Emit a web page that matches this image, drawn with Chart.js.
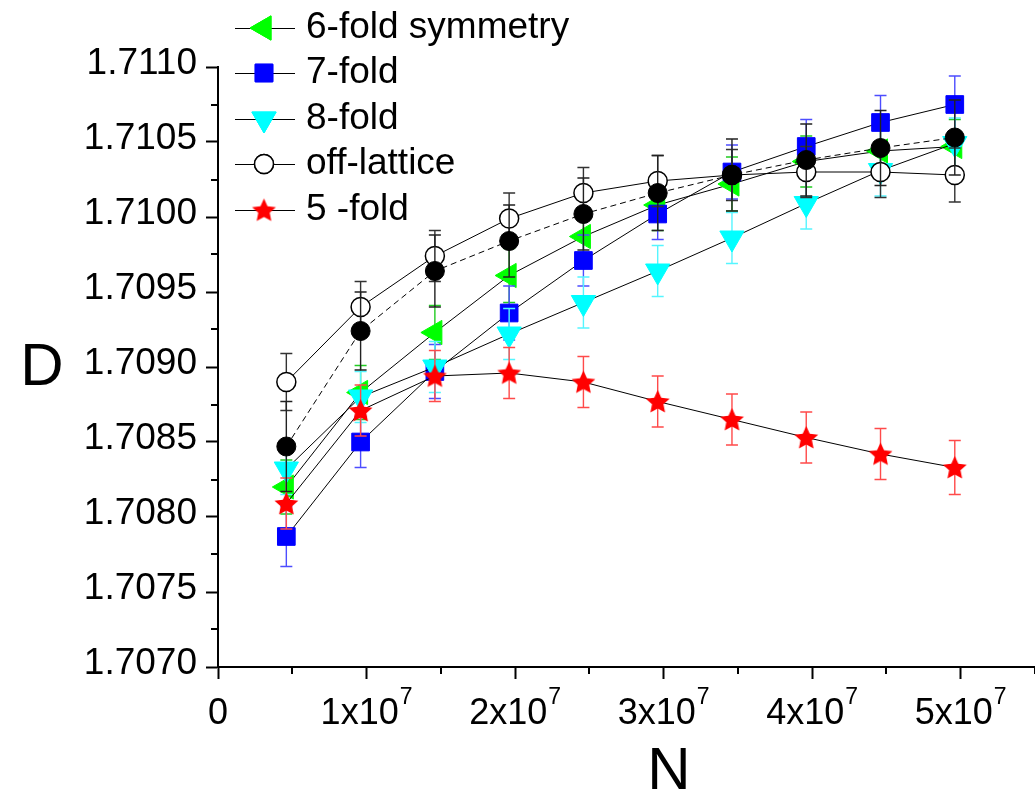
<!DOCTYPE html>
<html><head><meta charset="utf-8">
<script src="https://cdn.jsdelivr.net/npm/chart.js@4/dist/chart.umd.min.js"></script>
<style>html,body{margin:0;padding:0;background:#fff;overflow:hidden}</style>
</head><body>
<canvas id="c" width="1035" height="797"></canvas>
<script>
// ---- data ----
const nValues = [4.6e6, 9.6e6, 14.6e6, 19.6e6, 24.6e6, 29.6e6, 34.6e6, 39.6e6, 44.6e6, 49.6e6];
const fold6 = [1.70820, 1.70883, 1.70923, 1.70961, 1.70987, 1.71008, 1.71022, 1.71037, 1.71044, 1.71047];
const fold6Err = [0.00018, 0.00018, 0.00018, 0.00018, 0.00018, 0.00017, 0.00018, 0.00017, 0.00018, 0.00018];
const fold7 = [1.70787, 1.70850, 1.70897, 1.70936, 1.70971, 1.71002, 1.71030, 1.71047, 1.71063, 1.71075];
const fold7Err = [0.00020, 0.00017, 0.00018, 0.00018, 0.00017, 0.00017, 0.00018, 0.00018, 0.00018, 0.00019];
const fold8 = [1.70832, 1.70880, 1.70900, 1.70922, 1.70943, 1.70964, 1.70986, 1.71009, 1.71031, 1.71049];
const fold8Err = [0.00017, 0.00017, 0.00017, 0.00017, 0.00017, 0.00017, 0.00017, 0.00017, 0.00017, 0.00017];
const offLattice = [1.70890, 1.70940, 1.70974, 1.70999, 1.71016, 1.71024, 1.71028, 1.71030, 1.71030, 1.71028];
const offLatticeErr = [0.00019, 0.00017, 0.00017, 0.00017, 0.00017, 0.00017, 0.00017, 0.00017, 0.00017, 0.00018];
const fold5 = [1.70809, 1.70871, 1.70894, 1.70896, 1.70890, 1.70877, 1.70865, 1.70853, 1.70842, 1.70833];
const fold5Err = [0.00017, 0.00017, 0.00017, 0.00017, 0.00017, 0.00017, 0.00017, 0.00017, 0.00017, 0.00018];
const filled = [1.70847, 1.70924, 1.70964, 1.70984, 1.71002, 1.71016, 1.71028, 1.71038, 1.71046, 1.71053];
const filledErr = [0.00030, 0.00026, 0.00024, 0.00024, 0.00024, 0.00025, 0.00024, 0.00024, 0.00025, 0.00025];

const xTickLabels = ['0', '1x10^7', '2x10^7', '3x10^7', '4x10^7', '5x10^7'];
const yTickLabels = ['1.7070', '1.7075', '1.7080', '1.7085', '1.7090', '1.7095', '1.7100', '1.7105', '1.7110'];
const legendLabels = ['6-fold symmetry', '7-fold', '8-fold', 'off-lattice', '5 -fold'];
const xTitle = 'N';
const yTitle = 'D';

const FONT = "'Liberation Sans', Arial, Helvetica, sans-serif";

function pts(ys) { return ys.map((y, i) => ({x: nValues[i], y: y})); }

function makeStar(R, color) {
  const s = Math.ceil(R * 2 + 2);
  const c = document.createElement('canvas');
  c.width = s; c.height = s;
  const g = c.getContext('2d');
  const cx = s / 2, cy = s / 2 + R * 0.08, r = R * 0.48;
  g.beginPath();
  for (let k = 0; k < 10; k++) {
    const a = -Math.PI / 2 + k * Math.PI / 5;
    const rr = k % 2 === 0 ? R : r;
    const px = cx + Math.cos(a) * rr, py = cy + Math.sin(a) * rr;
    if (k === 0) g.moveTo(px, py); else g.lineTo(px, py);
  }
  g.closePath();
  g.fillStyle = color; g.fill();
  return c;
}
const starImg = makeStar(12.5, '#ff0000');

const datasets = [
  {label: 'filled', data: pts(filled), errors: filledErr, errColor: '#222222',
   borderColor: '#000', borderWidth: 1, borderDash: [6, 4],
   pointStyle: 'circle', pointRadius: 9.5, pointBackgroundColor: '#000', pointBorderColor: '#000', pointBorderWidth: 1, order: 0},
  {label: legendLabels[4], data: pts(fold5), errors: fold5Err, errColor: '#ff4a4a',
   borderColor: '#000', borderWidth: 1,
   pointStyle: starImg, pointRadius: 12, order: 1},
  {label: legendLabels[3], data: pts(offLattice), errors: offLatticeErr, errColor: '#333333',
   borderColor: '#000', borderWidth: 1,
   pointStyle: 'circle', pointRadius: 9.5, pointBackgroundColor: '#fff', pointBorderColor: '#000', pointBorderWidth: 1.5, order: 2},
  {label: legendLabels[2], data: pts(fold8), errors: fold8Err, errColor: '#55f5ff',
   borderColor: '#000', borderWidth: 1,
   pointStyle: 'triangle', pointRotation: 180, pointRadius: 14, pointBackgroundColor: '#00ffff', pointBorderColor: '#00ffff', pointBorderWidth: 1, order: 3},
  {label: legendLabels[1], data: pts(fold7), errors: fold7Err, errColor: '#4d4dff',
   borderColor: '#000', borderWidth: 1,
   pointStyle: 'rect', pointRadius: 12.5, pointBackgroundColor: '#0000ff', pointBorderColor: '#0000ff', pointBorderWidth: 1, order: 4},
  {label: legendLabels[0], data: pts(fold6), errors: fold6Err, errColor: '#22cc22',
   borderColor: '#000', borderWidth: 1,
   pointStyle: 'triangle', pointRotation: 270, pointRadius: 14, pointBackgroundColor: '#00ff00', pointBorderColor: '#00ff00', pointBorderWidth: 1, order: 5}
];

const errorBars = {
  id: 'errorBars',
  beforeDatasetDraw(chart, args) {
    const ds = chart.data.datasets[args.index];
    if (!ds.errors) return;
    const ctx = chart.ctx, xs = chart.scales.x, ys = chart.scales.y;
    ctx.save();
    ctx.strokeStyle = ds.errColor; ctx.lineWidth = 1.4;
    ds.data.forEach((p, i) => {
      const x = xs.getPixelForValue(p.x), e = ds.errors[i];
      const y1 = ys.getPixelForValue(p.y + e), y2 = ys.getPixelForValue(p.y - e);
      ctx.beginPath();
      ctx.moveTo(x, y1); ctx.lineTo(x, y2);
      ctx.moveTo(x - 6, y1); ctx.lineTo(x + 6, y1);
      ctx.moveTo(x - 6, y2); ctx.lineTo(x + 6, y2);
      ctx.stroke();
    });
    ctx.restore();
  }
};

function drawMarker(ctx, ds, x, y) {
  if (ds.pointStyle instanceof HTMLCanvasElement) {
    const img = ds.pointStyle;
    ctx.drawImage(img, x - img.width / 2, y - img.height / 2);
    return;
  }
  Chart.helpers.drawPoint(ctx, {
    pointStyle: ds.pointStyle, rotation: ds.pointRotation || 0, radius: ds.pointRadius, borderWidth: ds.pointBorderWidth
  }, x, y);
  ctx.fill();
  if (ds.pointBorderWidth) ctx.stroke();
}

const extras = {
  id: 'extras',
  afterDraw(chart) {
    const ctx = chart.ctx, xs = chart.scales.x, ys = chart.scales.y, ca = chart.chartArea;
    ctx.save();
    // minor ticks
    ctx.strokeStyle = '#000'; ctx.lineWidth = 2;
    ctx.beginPath();
    xs.ticks.forEach((t, i) => {
      if (i % 2 === 1) { const x = Math.round(xs.getPixelForValue(t.value)); ctx.moveTo(x, ca.bottom); ctx.lineTo(x, ca.bottom + 7); }
    });
    ys.ticks.forEach((t, i) => {
      if (i % 2 === 1) { const y = Math.round(ys.getPixelForValue(t.value)); ctx.moveTo(ca.left, y); ctx.lineTo(ca.left - 7, y); }
    });
    ctx.stroke();
    // x tick labels with superscript exponent
    ctx.fillStyle = '#000';
    ctx.textBaseline = 'alphabetic';
    ctx.textAlign = 'left';
    xs.ticks.forEach((t, i) => {
      if (i % 2 !== 0) return;
      const lab = xTickLabels[i / 2];
      if (lab === undefined) return;
      const parts = lab.split('^');
      const x = xs.getPixelForValue(t.value);
      ctx.font = '36px ' + FONT;
      const w1 = ctx.measureText(parts[0]).width;
      let w2 = 0;
      if (parts[1]) { ctx.font = '23px ' + FONT; w2 = ctx.measureText(parts[1]).width + 1; }
      const x0 = x - (w1 + w2) / 2;
      const base = 724;
      ctx.font = '36px ' + FONT;
      ctx.fillText(parts[0], x0, base);
      if (parts[1]) { ctx.font = '23px ' + FONT; ctx.fillText(parts[1], x0 + w1 + 1, base - 20); }
    });
    // axis titles
    ctx.font = '60px ' + FONT;
    ctx.textAlign = 'center'; ctx.textBaseline = 'middle';
    ctx.fillText(yTitle, 42, 368);
    ctx.fillText(xTitle, 669, 772);
    // legend
    const order = [5, 4, 3, 2, 1];
    const rows = [28, 73, 119, 164, 210];
    ctx.font = '37px ' + FONT;
    ctx.textAlign = 'left';
    order.forEach((di, k) => {
      const ds = chart.data.datasets[di];
      const y = rows[k];
      ctx.strokeStyle = '#000'; ctx.lineWidth = 1;
      ctx.beginPath(); ctx.moveTo(235, y + 0.5); ctx.lineTo(295, y + 0.5); ctx.stroke();
      ctx.fillStyle = ds.pointBackgroundColor || '#000';
      ctx.strokeStyle = ds.pointBorderColor || '#000';
      ctx.lineWidth = ds.pointBorderWidth || 1;
      drawMarker(ctx, ds, 264, y);
      ctx.fillStyle = '#000';
      ctx.fillText(ds.label, 306, y);
    });
    ctx.restore();
  }
};

new Chart(document.getElementById('c'), {
  type: 'line',
  data: {datasets: datasets},
  plugins: [errorBars, extras],
  options: {
    responsive: false,
    animation: false,
    events: [],
    devicePixelRatio: 1,
    layout: {autoPadding: false, padding: {top: 67, left: 0, right: 0, bottom: 0}},
    plugins: {legend: {display: false}, tooltip: {enabled: false}},
    scales: {
      x: {
        type: 'linear', min: 0, max: 5.5e7,
        afterFit(s) { s.height = 130; },
        border: {display: true, color: '#000', width: 2},
        grid: {drawOnChartArea: false, drawTicks: true, tickLength: 12, tickWidth: 2,
               tickColor: (c) => (c.index % 2 === 0 ? '#000' : 'rgba(0,0,0,0)')},
        ticks: {stepSize: 5e6, autoSkip: false, maxRotation: 0, minRotation: 0, padding: 0, display: false,
                color: '#000', font: {family: FONT, size: 36},
                callback: (v, i) => (i % 2 === 0 ? (xTickLabels[i / 2] || '').replace('^', '') : '')}
      },
      y: {
        type: 'linear', min: 1.707, max: 1.711,
        afterFit(s) { s.width = 218; },
        border: {display: true, color: '#000', width: 2},
        grid: {drawOnChartArea: false, drawTicks: true, tickLength: 12, tickWidth: 2,
               tickColor: (c) => (c.index % 2 === 0 ? '#000' : 'rgba(0,0,0,0)')},
        ticks: {stepSize: 0.00025, autoSkip: false, padding: 9, labelOffset: -3,
                color: '#000', font: {family: FONT, size: 37},
                callback: (v, i) => (i % 2 === 0 ? (yTickLabels[i / 2] || '') : '')}
      }
    }
  }
});
</script>
</body></html>
